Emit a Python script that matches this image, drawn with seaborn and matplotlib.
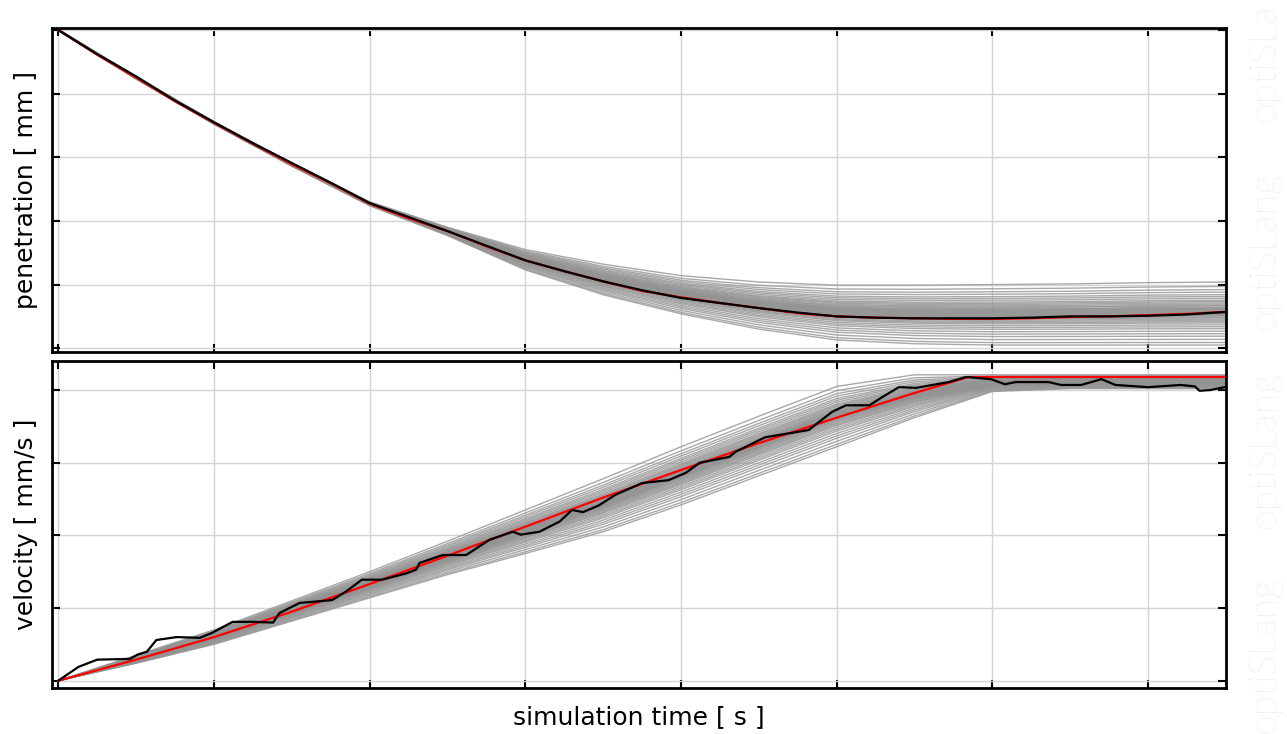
import numpy as np
import pandas as pd
import matplotlib
matplotlib.use("Agg")
import matplotlib.pyplot as plt
import seaborn as sns

# envelope of the sampled runs (grey bundle), on a coarse time grid
t_env = [0, 0.5, 1, 1.5, 2, 2.5, 3, 3.5, 4, 4.5, 5, 5.5, 6, 6.5, 7, 7.5]
pen_upper = [5.01, 4.27, 3.56, 2.91, 2.30, 1.90, 1.55, 1.32, 1.14, 1.04, 0.99, 0.99, 1.00, 1.01, 1.03, 1.04]
pen_lower = [4.99, 4.23, 3.52, 2.86, 2.24, 1.77, 1.23, 0.84, 0.54, 0.30, 0.13, 0.07, 0.05, 0.05, 0.05, 0.05]
vel_upper = [0.0, 0.35, 0.70, 1.10, 1.50, 1.92, 2.35, 2.78, 3.22, 3.64, 4.05, 4.21, 4.21, 4.21, 4.21, 4.21]
vel_lower = [0.0, 0.24, 0.50, 0.82, 1.14, 1.46, 1.75, 2.05, 2.42, 2.82, 3.22, 3.62, 3.98, 4.02, 4.02, 4.02]

# position of every sampled run inside the envelope
run_frac = [0.0, 0.04, 0.09, 0.14, 0.18, 0.22, 0.26, 0.29, 0.32, 0.35, 0.37, 0.39, 0.41,
            0.43, 0.44, 0.46, 0.47, 0.48, 0.49, 0.50, 0.51, 0.52, 0.53, 0.54, 0.55, 0.56,
            0.57, 0.58, 0.59, 0.60, 0.62, 0.63, 0.65, 0.67, 0.69, 0.71, 0.74, 0.77, 0.80,
            0.84, 0.88, 0.93, 1.0]

# penetration: mean (red) and reference signal (black)
t_pen = [0, 0.25, 0.5, 0.75, 1, 1.25, 1.5, 1.75, 2, 2.25, 2.5, 2.75, 3, 3.25, 3.5, 3.75,
         4, 4.25, 4.5, 4.75, 5, 5.25, 5.5, 5.75, 6, 6.25, 6.5, 6.75, 7, 7.25, 7.5]
pen_mean = [5.00, 4.61, 4.25, 3.88, 3.54, 3.21, 2.89, 2.59, 2.27, 2.04, 1.84, 1.60, 1.38, 1.21,
            1.05, 0.90, 0.80, 0.71, 0.63, 0.55, 0.50, 0.48, 0.47, 0.46, 0.46, 0.47, 0.49, 0.50,
            0.52, 0.54, 0.57]
pen_ref = [5.00, 4.62, 4.27, 3.89, 3.55, 3.22, 2.91, 2.60, 2.28, 2.06, 1.84, 1.61, 1.38, 1.21,
           1.05, 0.91, 0.79, 0.71, 0.63, 0.56, 0.50, 0.48, 0.47, 0.47, 0.47, 0.48, 0.50, 0.50,
           0.51, 0.53, 0.57]

# velocity: mean (red) and reference signal (black)
t_vel_mean = [0, 0.5, 1, 1.5, 2, 2.5, 3, 3.5, 4, 4.5, 5, 5.5, 5.85, 6.5, 7.5]
vel_mean = [0.0, 0.29, 0.60, 0.95, 1.33, 1.72, 2.12, 2.52, 2.90, 3.27, 3.62, 3.96, 4.18, 4.18, 4.18]
t_vel_ref = [0.00, 0.13, 0.25, 0.46, 0.51, 0.57, 0.63, 0.76, 0.91, 0.99, 1.12, 1.25, 1.38, 1.42,
             1.55, 1.76, 1.85, 1.95, 2.08, 2.24, 2.30, 2.32, 2.47, 2.62, 2.77, 2.92, 2.97, 3.09,
             3.22, 3.30, 3.37, 3.47, 3.58, 3.75, 3.92, 4.03, 4.12, 4.31, 4.35, 4.54, 4.82, 4.88,
             4.97, 5.06, 5.21, 5.29, 5.40, 5.51, 5.72, 5.83, 5.99, 6.08, 6.15, 6.36, 6.44, 6.57,
             6.70, 6.79, 7.00, 7.21, 7.30, 7.33, 7.40, 7.49]
vel_ref = [0.00, 0.19, 0.29, 0.30, 0.36, 0.40, 0.56, 0.60, 0.59, 0.66, 0.81, 0.81, 0.80, 0.93,
           1.07, 1.11, 1.23, 1.39, 1.39, 1.48, 1.53, 1.62, 1.73, 1.73, 1.94, 2.05, 2.01, 2.05,
           2.19, 2.35, 2.32, 2.41, 2.56, 2.72, 2.76, 2.86, 3.00, 3.08, 3.15, 3.35, 3.45, 3.55,
           3.70, 3.79, 3.79, 3.90, 4.04, 4.03, 4.11, 4.18, 4.15, 4.08, 4.11, 4.11, 4.07, 4.07,
           4.15, 4.07, 4.04, 4.07, 4.05, 3.99, 4.00, 4.04]

x_ticks = [0, 1, 2, 3, 4, 5, 6, 7]
pen_ticks = [0, 1, 2, 3, 4, 5]
vel_ticks = [0, 1, 2, 3, 4]

watermark = ["optiSLa", "optiSLang", "optiSLang", "optiSLang"]


def bundle(lower, upper):
    lo, up = np.array(lower), np.array(upper)
    rows = []
    for i, f in enumerate(run_frac):
        rows.append(pd.DataFrame({"t": t_env, "y": lo + f * (up - lo), "run": i}))
    return pd.concat(rows, ignore_index=True)


sns.set_theme(style="white")
plt.rcParams["font.family"] = ["DejaVu Sans"]

fig = plt.figure(figsize=(12.87, 7.34), dpi=100)
ax_top = fig.add_axes([0.0404, 0.5204, 0.9122, 0.4414])
ax_bot = fig.add_axes([0.0404, 0.0627, 0.9122, 0.4455])

panels = [
    (ax_top, bundle(pen_lower, pen_upper), t_pen, pen_mean, t_pen, pen_ref,
     pen_ticks, (-0.06, 5.03), "penetration [ mm ]"),
    (ax_bot, bundle(vel_lower, vel_upper), t_vel_mean, vel_mean, t_vel_ref, vel_ref,
     vel_ticks, (-0.10, 4.40), "velocity [ mm/s ]"),
]

for ax, grey, tm, ym, tr, yr, yt, ylim, label in panels:
    sns.lineplot(data=grey, x="t", y="y", units="run", estimator=None,
                 color="#939393", lw=1.0, alpha=0.8, ax=ax, legend=False)
    sns.lineplot(x=tm, y=ym, color="#ff0000", lw=1.6, ax=ax, sort=False)
    sns.lineplot(x=tr, y=yr, color="black", lw=1.6, ax=ax, sort=False)

    ax.set_xlim(-0.04, 7.5)
    ax.set_ylim(*ylim)
    ax.set_xticks(x_ticks)
    ax.set_yticks(yt)
    ax.grid(True, color="#d4d4d4", lw=1.0)
    ax.set_axisbelow(True)
    ax.tick_params(direction="in", length=6, width=1.5, color="black",
                   top=True, right=True, bottom=True, left=True,
                   labelbottom=False, labelleft=False)
    for sp in ax.spines.values():
        sp.set_color("black")
        sp.set_linewidth(2)
    ax.set_xlabel("")
    ax.set_ylabel(label, fontsize=18, color="black")
    ax.yaxis.set_label_coords(-0.012, 0.5)

ax_bot.set_xlabel("simulation time [ s ]", fontsize=18, color="black", labelpad=12)

# faint vendor watermark along the right edge
for yc, txt in zip([0.915, 0.659, 0.387, 0.108], watermark):
    fig.text(0.983, yc, txt, rotation=90, ha="center", va="center",
             fontsize=27, color="#e2e2e2", family=["Lato", "DejaVu Sans"],
             fontweight="light")

fig.savefig("out.png", dpi=100)
plt.close(fig)
